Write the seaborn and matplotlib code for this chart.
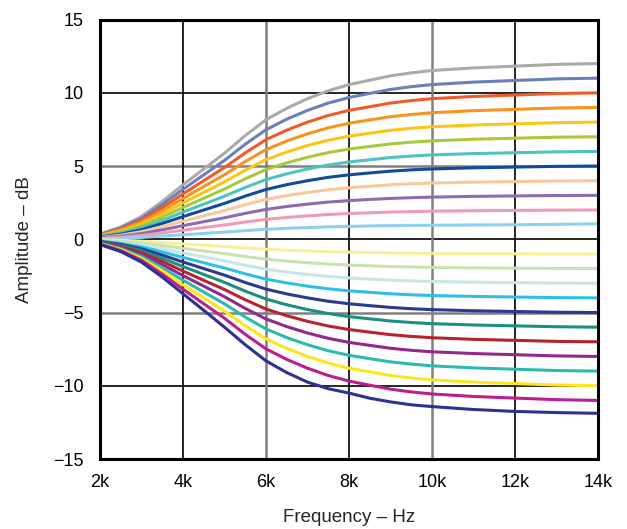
import numpy as np
import pandas as pd
import matplotlib
matplotlib.use('Agg')
import matplotlib.pyplot as plt
import seaborn as sns

# frequency points (kHz)
freq_khz = [2, 2.5, 3, 3.5, 4, 4.5, 5, 5.5, 6, 6.5, 7, 7.5, 8, 8.5, 9, 9.5, 10, 11, 12, 13, 14]

# boost curves (+12 dB down to +1 dB)
boost_db = [
    [0.36, 0.84, 1.56, 2.58, 3.72, 4.80, 5.88, 7.08, 8.16, 8.94, 9.60, 10.14, 10.56, 10.86, 11.16, 11.36, 11.52, 11.70, 11.82, 11.94, 12.0],
    [0.33, 0.77, 1.43, 2.37, 3.41, 4.40, 5.39, 6.49, 7.48, 8.20, 8.80, 9.30, 9.68, 9.96, 10.23, 10.42, 10.56, 10.73, 10.84, 10.95, 11.0],
    [0.30, 0.70, 1.30, 2.15, 3.10, 4.00, 4.90, 5.90, 6.80, 7.45, 8.00, 8.45, 8.80, 9.05, 9.30, 9.47, 9.60, 9.75, 9.85, 9.95, 10.0],
    [0.27, 0.63, 1.17, 1.94, 2.79, 3.60, 4.41, 5.31, 6.12, 6.71, 7.20, 7.61, 7.92, 8.15, 8.37, 8.52, 8.64, 8.78, 8.87, 8.96, 9.0],
    [0.24, 0.56, 1.04, 1.72, 2.48, 3.20, 3.92, 4.72, 5.44, 5.96, 6.40, 6.76, 7.04, 7.24, 7.44, 7.58, 7.68, 7.80, 7.88, 7.96, 8.0],
    [0.21, 0.49, 0.91, 1.51, 2.17, 2.80, 3.43, 4.13, 4.76, 5.22, 5.60, 5.92, 6.16, 6.34, 6.51, 6.63, 6.72, 6.83, 6.90, 6.97, 7.0],
    [0.18, 0.42, 0.78, 1.29, 1.86, 2.40, 2.94, 3.54, 4.08, 4.47, 4.80, 5.07, 5.28, 5.43, 5.58, 5.68, 5.76, 5.85, 5.91, 5.97, 6.0],
    [0.15, 0.35, 0.65, 1.08, 1.55, 2.00, 2.45, 2.95, 3.40, 3.73, 4.00, 4.23, 4.40, 4.53, 4.65, 4.74, 4.80, 4.88, 4.93, 4.98, 5.0],
    [0.12, 0.28, 0.52, 0.86, 1.24, 1.60, 1.96, 2.36, 2.72, 2.98, 3.20, 3.38, 3.52, 3.62, 3.72, 3.79, 3.84, 3.90, 3.94, 3.98, 4.0],
    [0.09, 0.21, 0.39, 0.65, 0.93, 1.20, 1.47, 1.77, 2.04, 2.24, 2.40, 2.54, 2.64, 2.72, 2.79, 2.84, 2.88, 2.93, 2.96, 2.99, 3.0],
    [0.06, 0.14, 0.26, 0.43, 0.62, 0.80, 0.98, 1.18, 1.36, 1.49, 1.60, 1.69, 1.76, 1.81, 1.86, 1.89, 1.92, 1.95, 1.97, 1.99, 2.0],
    [0.03, 0.07, 0.13, 0.22, 0.31, 0.40, 0.49, 0.59, 0.68, 0.75, 0.80, 0.85, 0.88, 0.91, 0.93, 0.95, 0.96, 0.98, 0.99, 1.02, 1.06],
]
boost_colors = ['#aaaaaa', '#6b7fb8', '#f15a29', '#f7941d', '#fcc417', '#a8c93a',
                '#4dc4bd', '#0f4c9c', '#f9c89b', '#8c6bb1', '#f09ab8', '#8ed0f0']

# cut curves (-1 dB down to -12 dB)
cut_db = [
    [-0.03, -0.07, -0.13, -0.22, -0.31, -0.40, -0.49, -0.59, -0.68, -0.75, -0.80, -0.85, -0.88, -0.91, -0.93, -0.95, -0.96, -0.98, -0.99, -1.00, -1.0],
    [-0.06, -0.14, -0.26, -0.43, -0.62, -0.80, -0.98, -1.18, -1.36, -1.49, -1.60, -1.69, -1.76, -1.81, -1.86, -1.89, -1.92, -1.95, -1.97, -1.99, -2.0],
    [-0.09, -0.21, -0.39, -0.65, -0.93, -1.20, -1.47, -1.77, -2.04, -2.24, -2.40, -2.54, -2.64, -2.72, -2.79, -2.84, -2.88, -2.93, -2.96, -2.99, -3.0],
    [-0.12, -0.28, -0.52, -0.86, -1.24, -1.60, -1.96, -2.36, -2.72, -2.98, -3.20, -3.38, -3.52, -3.62, -3.72, -3.79, -3.84, -3.90, -3.94, -3.98, -4.0],
    [-0.15, -0.35, -0.65, -1.08, -1.55, -2.00, -2.45, -2.95, -3.40, -3.73, -4.00, -4.23, -4.40, -4.53, -4.65, -4.74, -4.80, -4.88, -4.93, -4.98, -5.0],
    [-0.18, -0.42, -0.78, -1.29, -1.86, -2.40, -2.94, -3.54, -4.08, -4.47, -4.80, -5.07, -5.28, -5.43, -5.58, -5.68, -5.76, -5.85, -5.91, -5.97, -6.0],
    [-0.21, -0.49, -0.91, -1.51, -2.17, -2.80, -3.43, -4.13, -4.76, -5.22, -5.60, -5.92, -6.16, -6.34, -6.51, -6.63, -6.72, -6.83, -6.90, -6.97, -7.0],
    [-0.24, -0.56, -1.04, -1.72, -2.48, -3.20, -3.92, -4.72, -5.44, -5.96, -6.40, -6.76, -7.04, -7.24, -7.44, -7.58, -7.68, -7.80, -7.88, -7.96, -8.0],
    [-0.27, -0.63, -1.17, -1.94, -2.79, -3.60, -4.41, -5.31, -6.12, -6.71, -7.20, -7.61, -7.92, -8.15, -8.37, -8.52, -8.64, -8.78, -8.87, -8.96, -9.0],
    [-0.30, -0.70, -1.30, -2.15, -3.10, -4.00, -4.90, -5.90, -6.80, -7.45, -8.00, -8.45, -8.80, -9.05, -9.30, -9.47, -9.60, -9.75, -9.85, -9.95, -10.0],
    [-0.33, -0.77, -1.43, -2.37, -3.41, -4.40, -5.39, -6.49, -7.48, -8.20, -8.80, -9.30, -9.68, -9.96, -10.23, -10.42, -10.56, -10.73, -10.84, -10.95, -11.0],
    [-0.36, -0.84, -1.56, -2.58, -3.72, -4.85, -6.00, -7.20, -8.30, -9.10, -9.75, -10.20, -10.50, -10.85, -11.10, -11.30, -11.42, -11.62, -11.75, -11.83, -11.88],
]
cut_colors = ['#f8ef9a', '#c8e2b0', '#c8e6e4', '#2ebfe8', '#2b3990', '#1a9080',
              '#b5252e', '#92278f', '#2bbbad', '#fde619', '#bc1e8c', '#2e3192']

x_ticks = [2, 4, 6, 8, 10, 12, 14]
x_labels = ['2k', '4k', '6k', '8k', '10k', '12k', '14k']
y_ticks = [-15, -10, -5, 0, 5, 10, 15]

sns.set_style('white')
plt.rcParams['font.family'] = ['Liberation Sans', 'DejaVu Sans']

fig = plt.figure(figsize=(6.27, 5.29), dpi=100)
ax = fig.add_axes([0.1595, 0.1323, 0.7942, 0.8307])

# grid: black lines, gray at the middle ones
for t in y_ticks[1:-1]:
    c, lw = ('#808080', 1.8) if abs(t) == 5 else ('black', 1.2)
    ax.axhline(t, color=c, lw=lw, zorder=1)
for t in x_ticks[1:-1]:
    c, lw = ('#808080', 1.8) if t in (6, 10) else ('black', 1.2)
    ax.axvline(t, color=c, lw=lw, zorder=1)

for vals, col in zip(boost_db, boost_colors):
    sns.lineplot(x=freq_khz, y=vals, color=col, lw=2.2, ax=ax, zorder=3)
for vals, col in zip(cut_db, cut_colors):
    sns.lineplot(x=freq_khz, y=vals, color=col, lw=2.2, ax=ax, zorder=3)

ax.set_xlim(2, 14)
ax.set_ylim(-15, 15)
ax.set_xticks(x_ticks)
ax.set_xticklabels(x_labels)
ax.set_yticks(y_ticks)
ax.tick_params(axis='both', length=0, labelsize=13, colors='black')
ax.tick_params(axis='x', pad=11)
ax.tick_params(axis='y', pad=12)
ax.set_xlabel('Frequency – Hz', fontsize=13.5, labelpad=13)
ax.set_ylabel('Amplitude – dB', fontsize=13.5, labelpad=14)

for s in ax.spines.values():
    s.set_color('black')
    s.set_linewidth(2.2)
    s.set_zorder(5)

fig.savefig('out.png', dpi=100)
